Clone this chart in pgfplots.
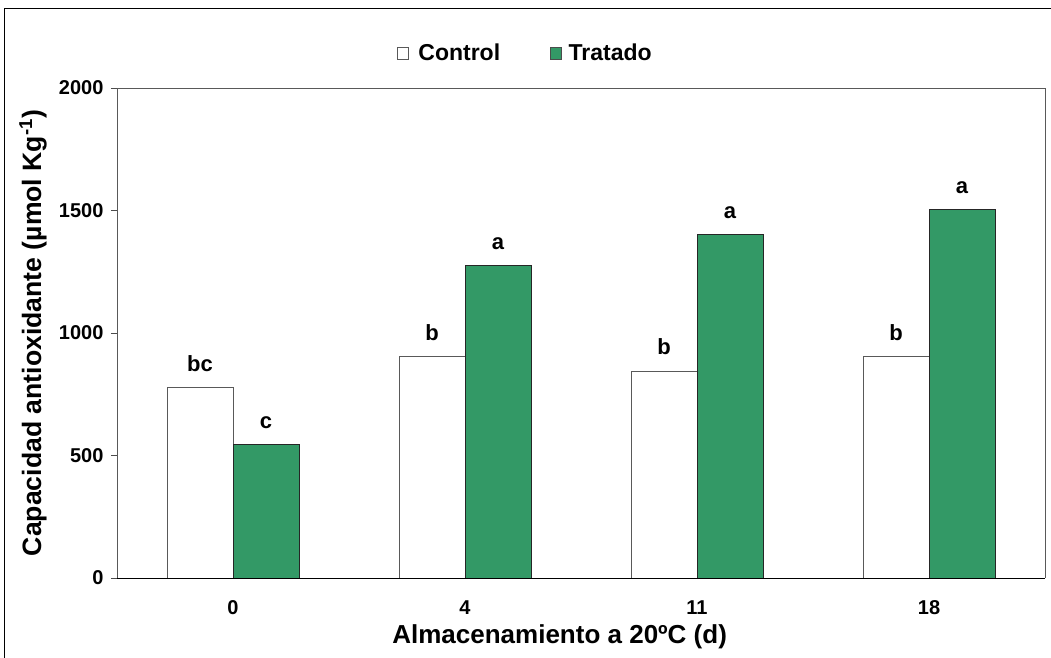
\documentclass[border=0pt]{standalone}
\usepackage{fontspec}
\setmainfont{Liberation Sans}
\usepackage{pgfplots}
\usepackage{pgfplotstable}
\pgfplotsset{compat=1.18}
\definecolor{tgreen}{RGB}{51,153,102}
\pgfplotstableread{
x c lc t lt
0 778 bc 546 c
1 906 b 1275 a
2 845 b 1404 a
3 904 b 1506 a
}\datatable
\begin{document}
\begin{tikzpicture}[x=1pt,y=1pt]
\useasboundingbox (0,0) rectangle (1051,657);
\draw[black, line width=1pt] (4.5,-30) -- (4.5,648) -- (1080,648);
\begin{axis}[
  at={(117pt,79pt)}, anchor=south west,
  scale only axis, width=928pt, height=490pt,
  ybar=0pt, bar width=66pt,
  xmin=-0.5, xmax=3.5, ymin=0, ymax=2000,
  xtick={0,1,2,3}, xticklabels={0,4,11,18},
  major x tick style={draw=none},
  ytick={0,500,1000,1500,2000},
  ytick pos=left, xtick pos=bottom,
  tick align=outside, major tick length=6pt,
  ytick style={gray!60!black, line width=0.8pt},
  axis line style={draw=none},
  clip=false,
  tick label style={font=\fontsize{20}{20}\selectfont\bfseries},
  /pgf/number format/assume math mode=true,
  /pgf/number format/1000 sep={},
  yticklabel style={xshift=-4pt},
  xticklabel style={anchor=base, yshift=-30pt},
  xlabel={Almacenamiento a 20ºC (d)},
  ylabel={Capacidad antioxidante (µmol Kg\textsuperscript{-1})},
  label style={font=\fontsize{26}{26}\selectfont\bfseries},
  ylabel style={font=\fontsize{26.6}{26.6}\selectfont\bfseries},
  xlabel style={at={(axis description cs:0.477,-0.1327)}, anchor=base},
  ylabel style={at={(axis description cs:-0.0905,0.5)}, anchor=center},
  nodes near coords,
  point meta=explicit symbolic,
  nodes near coords style={font=\fontsize{22}{22}\selectfont\bfseries, anchor=base, yshift=16pt},
  legend columns=2,
  legend style={at={(axis description cs:0.44,1.071)}, anchor=center, draw=none, fill=none,
    font=\fontsize{23}{23}\selectfont\bfseries,
    /tikz/every even column/.append style={column sep=48pt}},
]
\addplot[fill=white, draw=gray!70!black, line width=0.8pt,
  legend image code/.code={\path[draw=none,fill=none] (0pt,0pt) -- (19pt,0pt);\draw[fill=white, draw=gray!70!black, line width=0.8pt] (0pt,-6pt) rectangle (11pt,6pt);}]
  table[x=x, y=c, meta=lc] {\datatable};
\addlegendentry{Control}
\addplot[fill=tgreen, draw=black!85, line width=0.8pt,
  legend image code/.code={\path[draw=none,fill=none] (0pt,0pt) -- (16pt,0pt);\draw[fill=tgreen, draw=black!70, line width=0.8pt] (0pt,-6pt) rectangle (11pt,6pt);}]
  table[x=x, y=t, meta=lt] {\datatable};
\addlegendentry{Tratado}
\draw[gray!70!black, line width=0.8pt] (rel axis cs:0,0) -- (rel axis cs:0,1) -- (rel axis cs:1,1) -- (rel axis cs:1,0);
\draw[black, line width=1pt] (rel axis cs:0,0) -- (rel axis cs:1,0);
\end{axis}
\end{tikzpicture}
\end{document}
